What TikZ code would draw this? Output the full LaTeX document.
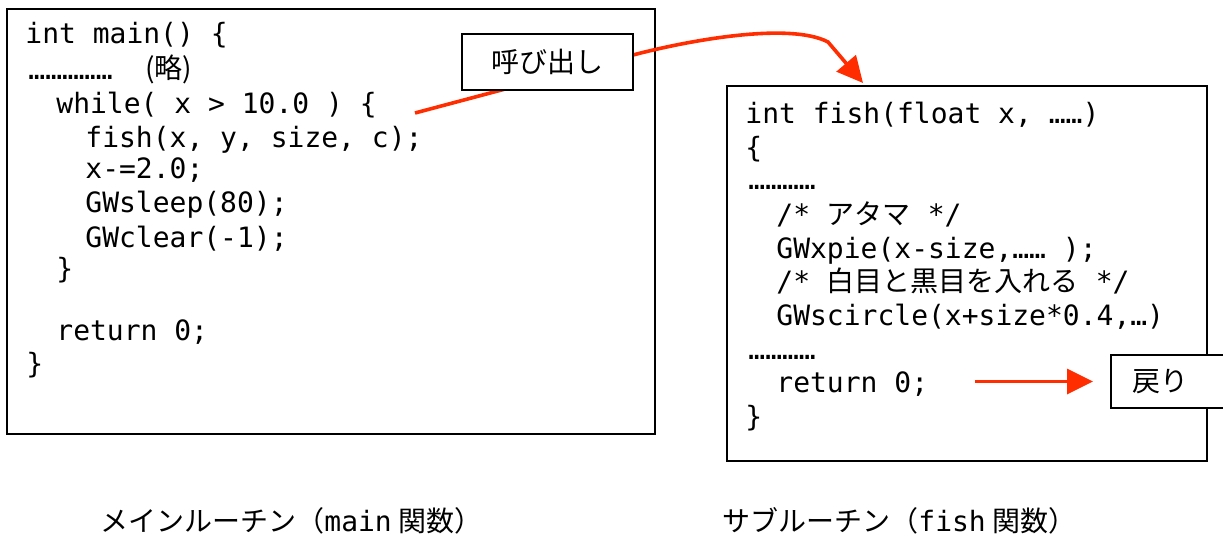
\documentclass[tikz,border=0pt]{standalone}
\usepackage{fontspec}
\setmonofont{DejaVu Sans Mono}
\newfontfamily\jpfont{Noto Sans CJK JP}
\usetikzlibrary{arrows.meta}
\tikzset{%
  codeline/.style={anchor=base west, inner sep=0pt, font=\fontsize{14}{17}\selectfont\ttfamily},%
  jpline/.style={anchor=base west, inner sep=0pt, font=\fontsize{14}{17}\selectfont\jpfont},%
  codebox/.style={draw, line width=0.8pt, inner sep=0pt},%
  tagbox/.style={draw, fill=white, line width=0.8pt, inner sep=0pt, font=\fontsize{14}{17}\selectfont\jpfont},%
  redarrow/.style={draw={rgb,255:red,255;green,45;blue,0}, line width=1.8pt, -{Triangle[length=13pt,width=12.5pt]}},%
}

\begin{document}
\begin{tikzpicture}[x=0.5pt, y=-0.5pt]%
\useasboundingbox (0, 0) rectangle (1223, 536);%
\clip (0, 0) rectangle (1223, 536);%
\node[codebox, minimum width=324pt, minimum height=212.5pt] (mainbox) at (331, 221.5) {};%
\node[codebox, minimum width=240pt, minimum height=187.5pt] (subbox) at (967, 273.5) {};%
\node[codeline] (m1) at (25, 43) {int main() \{};%
\node[codeline] (m2) at (28, 79) {……………};%
\node[jpline] (m2b) at (145, 78) {(略)};%
\node[codeline] (m3) at (56, 113) {while( x > 10.0 ) \{};%
\node[codeline] (m4) at (85, 147) {fish(x, y, size, c);};%
\node[codeline] (m5) at (85, 178) {x-=2.0;};%
\node[codeline] (m6) at (85, 212) {GWsleep(80);};%
\node[codeline] (m7) at (85, 247) {GWclear(-1);};%
\node[codeline] (m8) at (56, 278) {\}};%
\node[codeline] (m9) at (56, 340) {return 0;};%
\node[codeline] (m10) at (26, 373) {\}};%
\node[codeline] (f1) at (745, 123) {int fish(float x, ……)};%
\node[codeline] (f2) at (745, 157) {\{};%
\node[codeline] (f3) at (748, 189) {…………};%
\node[codeline] (f4) at (776, 224) {/* {\jpfont アタマ} */};%
\node[codeline] (f5) at (776, 258) {GWxpie(x-size,…… );};%
\node[codeline] (f6) at (776, 291) {/* {\jpfont 白目と黒目を入れる} */};%
\node[codeline] (f7) at (776, 325) {GWscircle(x+size*0.4,…)};%
\node[codeline] (f8) at (748, 359) {…………};%
\node[codeline] (f9) at (776, 392) {return 0;};%
\node[codeline] (f10) at (745, 426) {\}};%
\coordinate (callsrc) at (415, 113);%
\coordinate (calltip) at (863, 83);%
\draw[redarrow] (callsrc) -- (633, 55) .. controls (690, 40) and (790, 22) .. (828, 42) -- (calltip);%
\node[tagbox, minimum width=85.5pt, minimum height=28pt] (call) at (547.5, 62) {呼び出し};%
\node[tagbox, anchor=west, text width=60pt, inner xsep=11pt, minimum height=26.5pt] (ret) at (1110, 381.5) {戻り};%
\coordinate (retsrc) at (975, 381.5);%
\draw[redarrow, shorten >=8.5pt] (retsrc) -- (ret.west);%
\node[jpline] (maincap) at (100, 531) {メインルーチン（{\ttfamily main} 関数）};%
\node[jpline] (subcap) at (722, 531) {サブルーチン（{\ttfamily fish} 関数）};%
\end{tikzpicture}
\end{document}
